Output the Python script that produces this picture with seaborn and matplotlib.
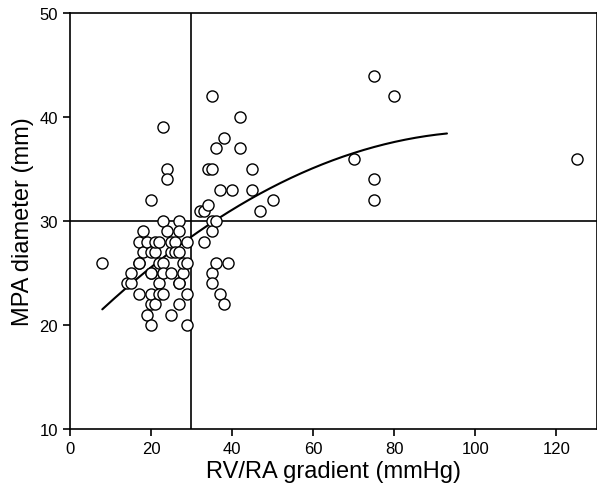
import matplotlib
matplotlib.use("Agg")
import matplotlib.pyplot as plt
import numpy as np
import pandas as pd
import seaborn as sns

# RV/RA gradient (mmHg) and MPA diameter (mm)
gradient = [
    8, 14, 15, 15, 17, 17, 17, 17, 18, 18,
    19, 19, 20, 20, 20, 20, 20, 20, 20, 21,
    21, 21, 22, 22, 22, 22, 23, 23, 23, 23,
    23, 24, 24, 24, 25, 25, 25, 25, 26, 26,
    27, 27, 27, 27, 27, 27, 28, 28, 29, 29,
    29, 29, 32, 33, 33, 34, 34, 35, 35, 35,
    35, 35, 35, 36, 36, 36, 37, 37, 38, 38,
    39, 40, 42, 42, 45, 45, 47, 50, 70, 75,
    75, 75, 80, 125,
]
diameter = [
    26, 24, 24, 25, 23, 26, 26, 28, 29, 27,
    21, 28, 20, 22, 23, 25, 25, 27, 32, 22,
    27, 28, 28, 24, 23, 26, 26, 23, 25, 30,
    39, 29, 35, 34, 21, 25, 27, 28, 28, 27,
    30, 29, 27, 24, 24, 22, 25, 26, 26, 23,
    20, 28, 31, 31, 28, 35, 31.5, 35, 30, 29,
    42, 25, 24, 30, 37, 26, 33, 23, 38, 22,
    26, 33, 40, 37, 35, 33, 31, 32, 36, 44,
    34, 32, 42, 36,
]

# quadratic fit drawn in the reference (intercept, linear, squared)
fit_coef = [18.5, 0.390, -0.00189]
fit_range = [8, 93]
cutoff_x = 30
cutoff_y = 30

df = pd.DataFrame({"gradient": gradient, "diameter": diameter})
xs = np.linspace(fit_range[0], fit_range[1], 200)
fit_df = pd.DataFrame({"gradient": xs,
                       "diameter": fit_coef[0] + fit_coef[1] * xs + fit_coef[2] * xs ** 2})

sns.set_theme(style="ticks")
plt.rcParams["font.family"] = ["Liberation Sans", "DejaVu Sans"]

fig = plt.figure(figsize=(5.97, 4.89), dpi=100)
ax = fig.add_axes([0.117, 0.121, 0.883, 0.850])

ax.axvline(cutoff_x, color="black", linewidth=1.2, zorder=1)
ax.axhline(cutoff_y, color="black", linewidth=1.2, zorder=1)

sns.lineplot(data=fit_df, x="gradient", y="diameter", color="black",
             linewidth=1.5, ax=ax, zorder=2)
sns.scatterplot(data=df, x="gradient", y="diameter", marker="o", s=64,
                facecolor="white", edgecolor="black", linewidth=1.0,
                ax=ax, zorder=3)

ax.set_xlim(0, 130)
ax.set_ylim(10, 50)
ax.set_xticks(range(0, 121, 20))
ax.set_yticks(range(10, 51, 10))
ax.tick_params(direction="out", length=5, width=1.2, labelsize=12, colors="black")
for side in ["left", "bottom", "top", "right"]:
    ax.spines[side].set_color("black")
    ax.spines[side].set_linewidth(1.2)
ax.set_xlabel("RV/RA gradient (mmHg)", fontsize=17, labelpad=3, color="black")
ax.set_ylabel("MPA diameter (mm)", fontsize=17, labelpad=4, color="black")

fig.savefig("out.png", dpi=100)
